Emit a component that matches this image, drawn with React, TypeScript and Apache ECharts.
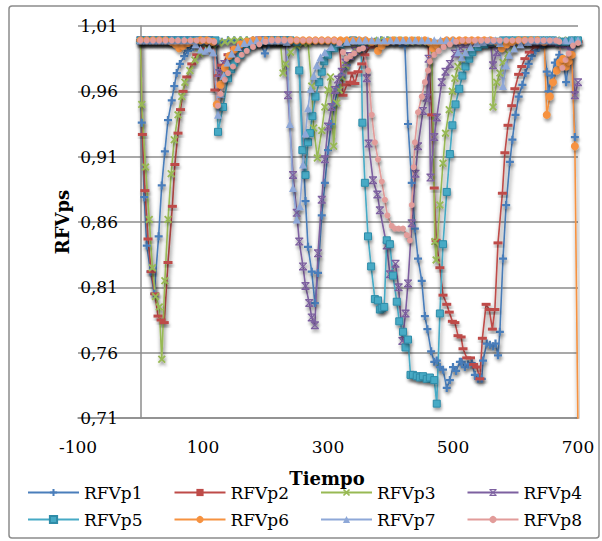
import React, { useEffect, useRef } from 'react';
import * as echarts from 'echarts';

const seriesNames = ['RFVp1', 'RFVp2', 'RFVp3', 'RFVp4', 'RFVp5', 'RFVp6', 'RFVp7', 'RFVp8'];
const seriesColors = ['#4A7EBB', '#BE4B48', '#98B954', '#7D60A0', '#46AAC5', '#F69240', '#8EA8D8', '#E29C9A'];
const xTicks = { min: -100, max: 700, interval: 200 };
const yTicks = { min: 0.71, max: 1.01, interval: 0.05 };

const rfvp1 = [
  [0, 0.999], [2, 0.936], [6, 0.879], [10, 0.842], [16, 0.822], [22, 0.805], [29, 0.849], [34, 0.888], [39, 0.914], [44, 0.938],
  [50, 0.953], [54, 0.964], [58, 0.974], [63, 0.981], [70, 0.987], [76, 0.991], [84, 0.994], [92, 0.996], [100, 0.997], [110, 0.998],
  [120, 0.997], [130, 0.998], [140, 0.999], [150, 0.999], [160, 0.999], [170, 0.999], [180, 0.999], [190, 0.998], [199, 0.989], [205, 0.996],
  [215, 0.998], [225, 0.999], [236, 0.999], [252, 0.997], [264, 0.876], [268, 0.841], [274, 0.822], [279, 0.798], [284, 0.821], [290, 0.865],
  [295, 0.89], [300, 0.915], [305, 0.935], [310, 0.95], [316, 0.962], [322, 0.972], [330, 0.98], [338, 0.987], [346, 0.992], [355, 0.995],
  [365, 0.997], [375, 0.998], [385, 0.999], [395, 0.999], [405, 0.998], [415, 0.997], [423, 0.995], [428, 0.935], [434, 0.89], [439, 0.855],
  [444, 0.832], [450, 0.815], [455, 0.788], [459, 0.778], [465, 0.761], [470, 0.753], [474, 0.754], [479, 0.749], [484, 0.747], [490, 0.733],
  [495, 0.739], [500, 0.749], [505, 0.746], [511, 0.753], [514, 0.753], [519, 0.749], [524, 0.751], [530, 0.752], [535, 0.743], [540, 0.74],
  [546, 0.74], [548, 0.754], [554, 0.767], [559, 0.766], [564, 0.765], [568, 0.767], [572, 0.758], [575, 0.776], [580, 0.832], [585, 0.873],
  [591, 0.906], [595, 0.923], [600, 0.942], [605, 0.956], [611, 0.965], [616, 0.974], [621, 0.981], [626, 0.987], [632, 0.991], [638, 0.994],
  [645, 0.996], [650, 0.975], [653, 0.96], [658, 0.972], [663, 0.982], [670, 0.988], [676, 0.985], [681, 0.967], [686, 0.985], [690, 0.993],
  [695, 0.925],
];

const rfvp2 = [
  [0, 0.999], [3, 0.927], [7, 0.884], [12, 0.847], [17, 0.822], [23, 0.805], [28, 0.788], [33, 0.785], [38, 0.783], [44, 0.829],
  [51, 0.872], [55, 0.904], [60, 0.928], [64, 0.946], [68, 0.96], [74, 0.971], [82, 0.981], [90, 0.988], [100, 0.993], [110, 0.996],
  [116, 0.997], [119, 0.961], [125, 0.972], [130, 0.98], [140, 0.988], [150, 0.993], [160, 0.996], [170, 0.998], [180, 0.999], [190, 0.999],
  [200, 0.999], [210, 0.999], [220, 0.999], [230, 0.998], [240, 0.999], [250, 0.999], [260, 0.998], [270, 0.999], [280, 0.999], [290, 0.999],
  [300, 0.999], [310, 0.999], [318, 0.998], [324, 0.957], [330, 0.965], [335, 0.967], [338, 0.974], [343, 0.966], [348, 0.975], [354, 0.981],
  [359, 0.988], [367, 0.994], [375, 0.996], [385, 0.998], [395, 0.999], [405, 0.999], [415, 0.999], [425, 0.998], [432, 0.998], [440, 0.999],
  [450, 0.998], [460, 0.997], [466, 0.942], [470, 0.886], [473, 0.846], [479, 0.825], [484, 0.804], [490, 0.797], [494, 0.791], [499, 0.784],
  [503, 0.783], [508, 0.773], [513, 0.772], [516, 0.763], [522, 0.756], [528, 0.756], [533, 0.751], [538, 0.749], [543, 0.74], [547, 0.771],
  [553, 0.797], [558, 0.793], [563, 0.778], [567, 0.793], [572, 0.844], [579, 0.882], [583, 0.913], [588, 0.934], [594, 0.949], [599, 0.962],
  [605, 0.973], [610, 0.979], [615, 0.985], [622, 0.99], [631, 0.994], [640, 0.996], [650, 0.997], [660, 0.998], [670, 0.998], [680, 0.998],
  [690, 0.998], [700, 0.998],
];

const rfvp3 = [
  [0, 0.999], [2, 0.95], [8, 0.902], [14, 0.862], [19, 0.825], [24, 0.803], [30, 0.795], [34, 0.755], [39, 0.815], [44, 0.862],
  [49, 0.897], [54, 0.923], [60, 0.942], [66, 0.956], [71, 0.967], [79, 0.976], [87, 0.984], [95, 0.989], [106, 0.993], [115, 0.996],
  [125, 0.997], [135, 0.998], [145, 0.999], [155, 0.999], [165, 0.999], [175, 0.999], [185, 0.999], [195, 0.999], [205, 0.999], [215, 0.999],
  [224, 0.998], [228, 0.974], [232, 0.981], [240, 0.99], [250, 0.995], [260, 0.997], [268, 0.997], [274, 0.964], [277, 0.932], [283, 0.909],
  [290, 0.93], [295, 0.948], [300, 0.961], [304, 0.971], [309, 0.918], [314, 0.951], [318, 0.961], [322, 0.971], [328, 0.98], [335, 0.987],
  [343, 0.992], [352, 0.995], [362, 0.997], [372, 0.998], [382, 0.999], [392, 0.999], [402, 0.999], [412, 0.999], [422, 0.999], [432, 0.998],
  [442, 0.999], [452, 0.998], [460, 0.998], [466, 0.997], [471, 0.845], [473, 0.831], [479, 0.873], [484, 0.905], [488, 0.928], [494, 0.946],
  [499, 0.96], [503, 0.97], [508, 0.979], [514, 0.985], [519, 0.99], [528, 0.994], [538, 0.996], [548, 0.997], [558, 0.998], [562, 0.997],
  [564, 0.948], [570, 0.967], [575, 0.974], [580, 0.982], [588, 0.989], [596, 0.993], [605, 0.996], [615, 0.997], [625, 0.998], [635, 0.998],
  [645, 0.999], [655, 0.999], [665, 0.999], [675, 0.999], [685, 0.999], [695, 0.999], [700, 0.999],
];

const rfvp4 = [
  [0, 0.999], [10, 0.999], [20, 0.999], [30, 0.999], [40, 0.999], [50, 0.999], [60, 0.999], [70, 0.999], [80, 0.999], [90, 0.999],
  [100, 0.999], [110, 0.999], [118, 0.998], [126, 0.974], [134, 0.981], [142, 0.986], [150, 0.99], [160, 0.994], [170, 0.996], [180, 0.998],
  [190, 0.999], [200, 0.999], [210, 0.999], [220, 0.999], [232, 0.999], [236, 0.957], [244, 0.896], [250, 0.867], [254, 0.845], [260, 0.826],
  [264, 0.811], [270, 0.798], [274, 0.787], [279, 0.781], [284, 0.836], [290, 0.877], [295, 0.908], [300, 0.933], [306, 0.948], [311, 0.961],
  [316, 0.969], [322, 0.975], [328, 0.982], [335, 0.987], [343, 0.991], [352, 0.994], [358, 0.996], [362, 0.97], [365, 0.92], [372, 0.892],
  [379, 0.881], [383, 0.869], [394, 0.842], [399, 0.82], [408, 0.828], [413, 0.81], [419, 0.769], [424, 0.79], [428, 0.813], [434, 0.859],
  [440, 0.897], [444, 0.918], [452, 0.945], [458, 0.955], [461, 0.985], [464, 0.894], [470, 0.925], [474, 0.94], [482, 0.967], [488, 0.975],
  [495, 0.981], [503, 0.989], [512, 0.993], [522, 0.996], [535, 0.997], [548, 0.998], [560, 0.997], [564, 0.98], [570, 0.99], [580, 0.995],
  [590, 0.997], [600, 0.998], [610, 0.998], [620, 0.998], [630, 0.998], [640, 0.998], [650, 0.998], [660, 0.998], [670, 0.997], [680, 0.996],
  [688, 0.99], [695, 0.957], [700, 0.967],
];

const rfvp5 = [
  [0, 0.999], [10, 0.999], [20, 0.999], [30, 0.999], [40, 0.999], [50, 0.999], [60, 0.999], [70, 0.999], [80, 0.999], [90, 0.999],
  [100, 0.999], [110, 0.999], [120, 0.999], [124, 0.929], [132, 0.948], [140, 0.97], [145, 0.977], [150, 0.982], [160, 0.988], [170, 0.993],
  [180, 0.996], [190, 0.998], [200, 0.999], [210, 0.999], [220, 0.999], [230, 0.999], [240, 0.999], [250, 0.998], [254, 0.976], [259, 0.915],
  [264, 0.896], [268, 0.921], [271, 0.928], [275, 0.941], [280, 0.956], [286, 0.967], [290, 0.975], [294, 0.983], [300, 0.988], [310, 0.993],
  [320, 0.996], [330, 0.998], [340, 0.999], [353, 0.998], [355, 0.936], [359, 0.89], [364, 0.849], [369, 0.826], [375, 0.801], [380, 0.8],
  [383, 0.793], [386, 0.794], [390, 0.795], [394, 0.846], [399, 0.843], [404, 0.819], [410, 0.799], [414, 0.784], [420, 0.776], [424, 0.764],
  [428, 0.77], [432, 0.743], [436, 0.743], [442, 0.742], [447, 0.741], [452, 0.742], [458, 0.74], [463, 0.741], [470, 0.739], [474, 0.721],
  [479, 0.79], [484, 0.843], [490, 0.883], [495, 0.912], [499, 0.934], [504, 0.95], [510, 0.962], [515, 0.972], [520, 0.979], [526, 0.985],
  [531, 0.99], [540, 0.994], [550, 0.996], [560, 0.998], [570, 0.998], [580, 0.999], [590, 0.999], [600, 0.999], [610, 0.999], [620, 0.999],
  [630, 0.999], [640, 0.999], [650, 0.999], [660, 0.999], [670, 0.998], [680, 0.998], [690, 0.999], [700, 0.999],
];

const rfvp6 = [
  [0, 0.999], [10, 0.999], [20, 0.999], [30, 0.999], [40, 0.999], [50, 0.998], [56, 0.996], [62, 0.993], [68, 0.995], [76, 0.997],
  [86, 0.998], [96, 0.999], [106, 0.999], [116, 0.998], [122, 0.95], [128, 0.965], [135, 0.978], [142, 0.987], [150, 0.992], [160, 0.996],
  [170, 0.998], [180, 0.999], [190, 0.999], [200, 0.999], [210, 0.999], [220, 0.999], [230, 0.999], [240, 0.999], [250, 0.999], [260, 0.999],
  [270, 0.999], [280, 0.999], [290, 0.999], [300, 0.999], [310, 0.999], [320, 0.999], [330, 0.999], [340, 0.999], [350, 0.999], [360, 0.999],
  [370, 0.998], [380, 0.991], [386, 0.995], [394, 0.998], [404, 0.999], [414, 0.999], [424, 0.999], [434, 0.999], [444, 0.999], [455, 0.999],
  [462, 0.998], [468, 0.993], [474, 0.996], [482, 0.998], [490, 0.999], [500, 0.999], [510, 0.999], [520, 0.999], [530, 0.999], [540, 0.999],
  [550, 0.999], [560, 0.999], [570, 0.998], [578, 0.993], [586, 0.996], [595, 0.998], [605, 0.999], [615, 0.999], [625, 0.999], [635, 0.999],
  [646, 0.998], [650, 0.942], [655, 0.956], [660, 0.967], [666, 0.976], [671, 0.982], [676, 0.985], [681, 0.979], [685, 0.983], [690, 0.988],
  [695, 0.918], [700, 0.7],
];

const rfvp7 = [
  [0, 0.999], [10, 0.999], [20, 0.999], [30, 0.999], [40, 0.999], [50, 0.999], [60, 0.999], [70, 0.999], [80, 0.999], [88, 0.996],
  [96, 0.992], [104, 0.991], [110, 0.993], [116, 0.99], [124, 0.942], [128, 0.958], [133, 0.972], [139, 0.982], [146, 0.989], [156, 0.994],
  [166, 0.997], [176, 0.998], [186, 0.999], [196, 0.999], [206, 0.999], [216, 0.999], [226, 0.999], [234, 0.998], [239, 0.935], [244, 0.886],
  [250, 0.862], [255, 0.872], [260, 0.904], [264, 0.928], [268, 0.947], [272, 0.962], [277, 0.972], [282, 0.98], [288, 0.986], [295, 0.99],
  [305, 0.994], [318, 0.997], [330, 0.998], [340, 0.999], [350, 0.999], [360, 0.999], [370, 0.999], [380, 0.999], [390, 0.999], [400, 0.999],
  [410, 0.999], [420, 0.999], [430, 0.999], [440, 0.999], [450, 0.999], [460, 0.999], [470, 0.999], [480, 0.999], [490, 0.999], [500, 0.999],
  [508, 0.99], [514, 0.986], [520, 0.99], [528, 0.994], [538, 0.997], [548, 0.998], [558, 0.999], [568, 0.999], [575, 0.997], [580, 0.964],
  [585, 0.98], [590, 0.988], [598, 0.993], [608, 0.996], [620, 0.998], [630, 0.999], [640, 0.999], [650, 0.999], [660, 0.999], [670, 0.999],
  [680, 0.999], [690, 0.999], [700, 0.999],
];

const rfvp8 = [
  [0, 0.999], [10, 0.999], [20, 0.999], [30, 0.999], [40, 0.999], [50, 0.999], [60, 0.999], [70, 0.999], [80, 0.999], [90, 0.999],
  [100, 0.999], [110, 0.999], [118, 0.998], [124, 0.949], [128, 0.958], [135, 0.969], [140, 0.974], [148, 0.979], [155, 0.984], [162, 0.988],
  [170, 0.991], [180, 0.994], [190, 0.996], [200, 0.998], [210, 0.999], [220, 0.999], [230, 0.999], [240, 0.999], [250, 0.999], [260, 0.999],
  [270, 0.999], [280, 0.999], [290, 0.999], [300, 0.999], [310, 0.999], [318, 0.997], [324, 0.99], [330, 0.985], [336, 0.987], [342, 0.989],
  [350, 0.992], [356, 0.993], [364, 0.976], [370, 0.942], [375, 0.921], [380, 0.908], [386, 0.891], [391, 0.877], [395, 0.865], [402, 0.857],
  [407, 0.855], [413, 0.855], [420, 0.855], [426, 0.85], [431, 0.846], [434, 0.873], [437, 0.902], [439, 0.921], [444, 0.944], [450, 0.956],
  [455, 0.967], [460, 0.976], [463, 0.983], [470, 0.988], [477, 0.991], [485, 0.994], [495, 0.996], [505, 0.998], [515, 0.999], [525, 0.999],
  [535, 0.999], [545, 0.999], [555, 0.999], [565, 0.999], [575, 0.999], [585, 0.999], [595, 0.999], [605, 0.999], [615, 0.999], [625, 0.999],
  [635, 0.999], [645, 0.999], [655, 0.999], [665, 0.999], [670, 0.998], [675, 0.978], [680, 0.984], [685, 0.989], [692, 0.995], [700, 0.997],
];

const seriesData = [rfvp1, rfvp2, rfvp3, rfvp4, rfvp5, rfvp6, rfvp7, rfvp8];

const FONT = 'DejaVu Serif';
const GRID_COLOR = '#8c8c8c';

const symbols: any[] = [
  { symbol: 'path://M3.6,0H6.4V3.6H10V6.4H6.4V10H3.6V6.4H0V3.6H3.6Z', size: 8 },
  { symbol: 'rect', size: [9, 3] },
  { symbol: 'path://M0,1.6L1.6,0L5,3.4L8.4,0L10,1.6L6.6,5L10,8.4L8.4,10L5,6.6L1.6,10L0,8.4L3.4,5Z', size: 8 },
  { symbol: 'path://M0,0H10V1.8H0Z M0,8.2H10V10H0Z M0.6,1.8H2.4L5,4L7.6,1.8H9.4L6.3,5L9.4,8.2H7.6L5,6L2.4,8.2H0.6L3.7,5Z', size: 8 },
  { symbol: 'rect', size: 7 },
  { symbol: 'circle', size: 8 },
  { symbol: 'triangle', size: 8 },
  { symbol: 'circle', size: 6 },
];

const legendLeft = [27, 173.5, 320, 466.5];
const legendTop = [484, 511];

export default function App() {
  const ref = useRef<HTMLDivElement>(null);
  useEffect(() => {
    const chart = echarts.init(ref.current as HTMLDivElement, null, { renderer: 'svg' });
    const series = seriesNames.map((name, i) => ({
      name,
      type: 'line',
      data: seriesData[i],
      symbol: symbols[i].symbol,
      symbolSize: symbols[i].size,
      showAllSymbol: true,
      clip: true,
      lineStyle: {
        color: seriesColors[i],
        width: 1.6,
        shadowColor: 'rgba(0,0,0,0.6)',
        shadowBlur: 4,
        shadowOffsetX: 1,
        shadowOffsetY: 4,
      },
      itemStyle: {
        color: seriesColors[i],
        borderColor: i === 4 ? '#2F8CA8' : seriesColors[i],
        borderWidth: i === 4 ? 1 : 0,
        shadowColor: 'rgba(0,0,0,0.3)',
        shadowBlur: 3,
        shadowOffsetX: 1,
        shadowOffsetY: 3,
      },
      emphasis: { disabled: true },
    }));
    const legends = seriesNames.map((name, i) => ({
      data: [name],
      left: legendLeft[i % 4],
      top: legendTop[Math.floor(i / 4)],
      padding: 0,
      itemWidth: 51,
      itemHeight: 9,
      itemGap: 0,
      selectedMode: false,
      textStyle: { fontFamily: FONT, fontSize: 17, color: '#000' },
    }));
    chart.setOption({
      animation: false,
      backgroundColor: '#ffffff',
      grid: { left: 78, right: 24, top: 26, bottom: 123 },
      xAxis: {
        type: 'value',
        min: xTicks.min,
        max: xTicks.max,
        interval: xTicks.interval,
        axisLine: { show: true, lineStyle: { color: GRID_COLOR, width: 1.5 } },
        axisTick: { show: false },
        splitLine: { show: false },
        axisLabel: { color: '#000', fontFamily: FONT, fontSize: 17, margin: 20 },
      },
      yAxis: {
        type: 'value',
        min: yTicks.min,
        max: yTicks.max,
        interval: yTicks.interval,
        axisLine: { show: true, onZero: true, lineStyle: { color: GRID_COLOR, width: 1.5 } },
        axisTick: { show: false },
        splitLine: { show: true, lineStyle: { color: GRID_COLOR, width: 1.5 } },
        axisLabel: {
          color: '#000',
          fontFamily: FONT,
          fontSize: 17,
          margin: -40,
          formatter: (v: number) => v.toFixed(2).replace('.', ','),
        },
      },
      legend: legends,
      graphic: [
        {
          type: 'rect',
          z: -10,
          shape: { x: 9, y: 6, width: 590, height: 532, r: 3 },
          style: { fill: 'none', stroke: '#8c8c8c', lineWidth: 1.5 },
        },
        {
          type: 'text',
          x: 327,
          y: 478,
          style: { text: 'Tiempo', font: `bold 18px "${FONT}"`, fill: '#000', align: 'center', verticalAlign: 'middle' },
        },
        {
          type: 'text',
          x: 62,
          y: 222,
          rotation: Math.PI / 2,
          style: { text: 'RFVps', font: `bold 18px "${FONT}"`, fill: '#000', align: 'center', verticalAlign: 'middle' },
        },
      ],
      series,
    });
    return () => chart.dispose();
  }, []);
  return <div ref={ref} style={{ position: 'absolute', left: 0, top: 0, width: 602, height: 541 }} />;
}
